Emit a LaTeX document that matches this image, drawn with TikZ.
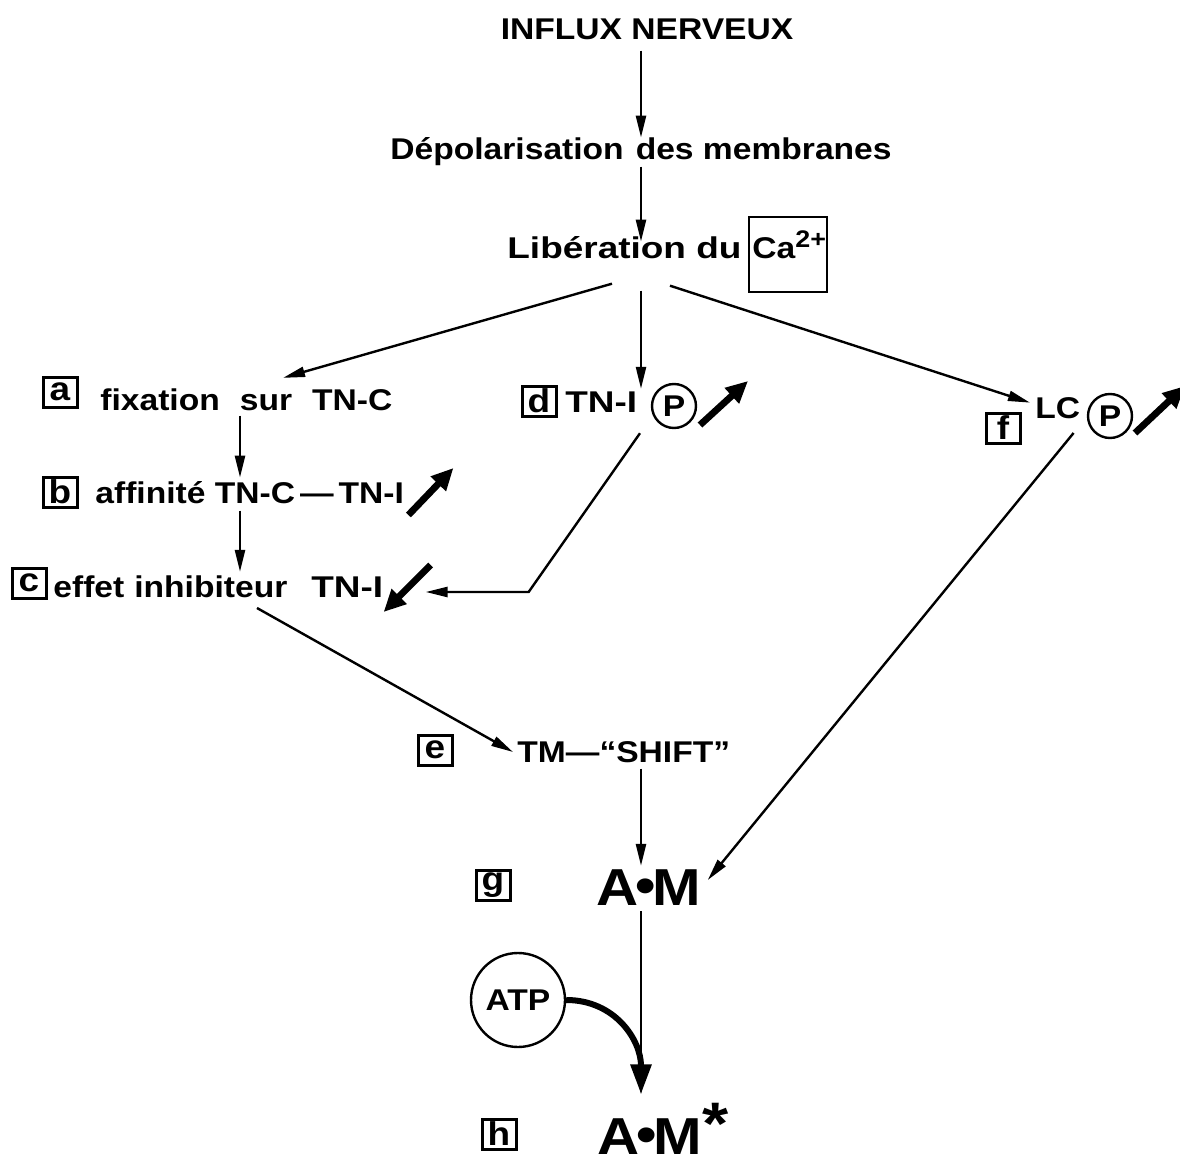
\documentclass[tikz,border=0pt]{standalone}
\usepackage{fontspec}
\setmainfont{Liberation Sans}[FakeStretch=1.12]
\usetikzlibrary{arrows.meta,calc}
\begin{document}
\begin{tikzpicture}[x=0.5pt,y=-0.5pt,
  lbl/.style={font=\bfseries\fontsize{15}{18}\selectfont, inner sep=0pt},
  big/.style={font=\bfseries\fontsize{26}{30}\selectfont, inner sep=0pt},
  tag/.style={draw, line width=1.5pt, minimum width=17pt, minimum height=15pt,
    inner sep=0pt, font=\bfseries\fontsize{16.5}{16.5}\selectfont},
  phos/.style={circle, draw, line width=1.2pt, minimum size=22pt, inner sep=0pt,
    font=\bfseries\fontsize{15}{15}\selectfont},
  arr/.style={line width=1.2pt, -{Triangle[length=11pt,width=5pt]}},
  fat/.style={line width=3.4pt, -{Triangle[length=11pt,width=10pt]}},
  atparr/.style={line width=3pt, -{Triangle[length=15pt,width=10pt]}},
]
\useasboundingbox (0,0) rectangle (1180,1156);

% guide lines for the vertical flows
\coordinate (spine) at (641,0);
\coordinate (col) at (240,0);

% main chain
\node[lbl, anchor=base] (influx) at (647,40) {INFLUX NERVEUX};
\node[lbl, anchor=base] (depol) at (641,160) {Dépolarisation\hspace{6pt}des membranes};
\node[lbl, anchor=base west] (lib) at (507,258) {\scalebox{1.1}[1]{Libération du}};
\node[draw, line width=1.2pt, minimum width=39pt, minimum height=37.5pt, inner sep=0pt] (cabox) at (788,254.5) {};
\node[lbl, anchor=base west] (ca) at (752,258) {Ca\textsuperscript{\fontsize{12}{12}\selectfont 2+}};

% left branch
\node[tag] (ta) at (60,392) {a};
\node[lbl, anchor=base west] (fix) at (100,410) {fixation\hspace{10pt}sur\hspace{10pt}TN-C};
\node[tag] (tb) at (60,492) {b};
\node[lbl, anchor=base west] (aff) at (95,503) {affinité TN-C\,—\,TN-I};
\node[tag] (tc) at (29,583) {c};
\node[lbl, anchor=base west] (eff) at (53,597) {effet\hspace{5pt}inhibiteur\hspace{12pt}\scalebox{1.1}[1]{TN-I}};

% middle branch
\node[tag] (td) at (539,401) {d};
\node[lbl, anchor=base west] (tni) at (565,413) {\scalebox{1.1}[1]{TN-I}};
\node[phos] (pd) at (674,406) {P};

% right branch
\node[tag] (tf) at (1003,428) {f};
\node[lbl, anchor=base west] (lc) at (1035,418) {LC};
\node[phos] (pf) at (1110,416) {P};

% lower part
\node[tag] (te) at (435,750) {e};
\node[lbl, anchor=base west] (tm) at (517,762) {TM—“SHIFT”};
\node[tag] (tg) at (493,885) {g};
\node[big, anchor=base west] (am) at (596,905) {A\kern-1.5pt\raisebox{1pt}{•}\kern-1.5pt M};
\node[circle, draw, line width=1.2pt, minimum size=47pt, inner sep=0pt,
  font=\bfseries\fontsize{15}{15}\selectfont] (atp) at (518,1000) {ATP};
\node[tag] (th) at (499,1134) {h};
\node[big, anchor=base west] (ams) at (597,1154) {A\kern-1.5pt\raisebox{1pt}{•}\kern-1.5pt M\raisebox{5pt}{\fontsize{30}{30}\selectfont *}};

% vertical chain
\draw[arr, shorten <=5pt] (influx.south -| spine) -- (depol.north -| spine);
\draw[arr] (depol.south -| spine) -- ($(lib.north -| spine)+(0,6)$);

% three branches out of the calcium release
\draw[arr] ($(lib.south west)+(105,25)$) -- ($(fix.north west)+(183,-10)$);
\draw[arr] ($(lib.south -| spine)+(0,32)$) -- ($(spine |- pd.north)+(0,6)$);
\draw[arr] ($(lib.south west)+(163,27)$) -- ($(lc.north west)+(-5,6)$);

% left column
\draw[arr, shorten <=2.5pt] (fix.south -| col) -- ($(aff.north -| col)+(0,-3)$);
\draw[arr, shorten <=3.5pt] (aff.south -| col) -- ($(eff.north -| col)+(0,-3)$);
\draw[fat] ($(aff.base east)+(4,12)$) -- ($(aff.base east)+(49,-35)$);
\draw[fat] ($(eff.base east)+(47,-32)$) -- ($(eff.base east)+(0,15)$);

% phosphorylated TN-I acts on the inhibitory effect
\draw[arr] ($(spine |- pd.south)+(-1,4)$) -- ($(eff.base east)+(145,-5)$) -- ($(eff.base east)+(42,-5)$);
\draw[fat] ($(pd.center)+(26,19)$) -- ($(pd.center)+(74,-25)$);

% phosphorylated light chain acts on actomyosin
\draw[fat] ($(pf.center)+(25,17)$) -- ($(pf.center)+(75,-30)$);
\draw[arr] ($(lc.base east)+(-7,15)$) -- ($(am.base east)+(6,-25)$);

% towards actomyosin
\draw[arr] ($(eff.base west)+(204,11)$) -- ($(tm.base west)+(-4,-10)$);
\draw[arr, shorten <=3pt] (tm.south -| spine) -- ($(am.north -| spine)+(0,-3)$);
\draw[arr, shorten <=3pt] (am.south -| spine) -- ($(ams.north -| spine)+(0,-8)$);
\draw[atparr] (atp.east) .. controls (615,1000) and (641,1040) .. ($(ams.north -| spine)+(0,-8)$);
\end{tikzpicture}
\end{document}
